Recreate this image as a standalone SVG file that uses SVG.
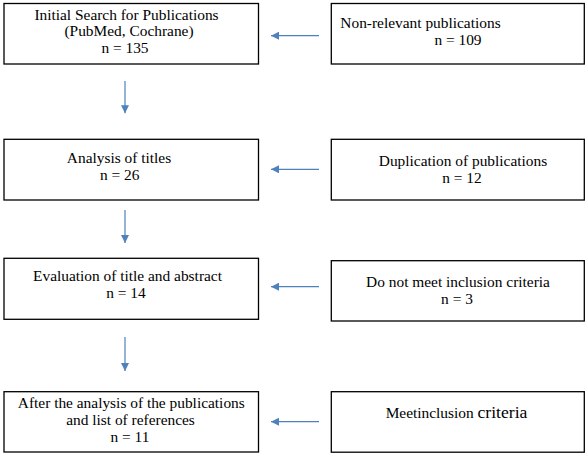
<svg xmlns="http://www.w3.org/2000/svg" width="588" height="455" viewBox="0 0 588 455" font-family="'Liberation Serif', 'Times New Roman', 'DejaVu Serif', serif">
<style>
.box{fill:#fff;stroke:#000;stroke-width:1.3}
text{font-family:'Liberation Serif','Times New Roman','DejaVu Serif',serif;font-size:15.4px;fill:#000;text-anchor:middle}
.big{font-size:17.6px}
.conn line{stroke:#4F81BD;stroke-width:1.2}
</style>
<defs>
<marker id="ah" viewBox="0 0 10 10" refX="10" refY="5" markerWidth="8" markerHeight="8" markerUnits="userSpaceOnUse" orient="auto">
<path d="M0,0 L10,5 L0,10 Z" fill="#4F81BD"/>
</marker>
</defs>
<rect width="588" height="455" fill="#fff"/>
<g id="initial-search">
<rect class="box" x="4" y="3.5" width="254.5" height="60.5"/>
<text x="126.5" y="19.5">Initial Search for Publications</text>
<text x="129" y="36.2">(PubMed, Cochrane)</text>
<text x="125" y="53">n = 135</text>
</g>
<g id="non-relevant">
<rect class="box" x="331.3" y="3.5" width="253" height="60.5"/>
<text x="420.5" y="28.3">Non-relevant publications</text>
<text x="458" y="45">n = 109</text>
</g>
<g id="analysis-titles">
<rect class="box" x="4" y="139.3" width="254.5" height="60.7"/>
<text x="119" y="162.7">Analysis of titles</text>
<text x="119.7" y="180">n = 26</text>
</g>
<g id="duplication">
<rect class="box" x="331.3" y="139.3" width="253" height="60.7"/>
<text x="463" y="166">Duplication of publications</text>
<text x="462" y="183.3">n = 12</text>
</g>
<g id="evaluation">
<rect class="box" x="4" y="258.3" width="254.5" height="61"/>
<text x="127.5" y="281">Evaluation of title and abstract</text>
<text x="126" y="297.7">n = 14</text>
</g>
<g id="not-meet">
<rect class="box" x="331.3" y="260.7" width="253" height="60.3"/>
<text x="458" y="286.7">Do not meet inclusion criteria</text>
<text x="457" y="304.3">n = 3</text>
</g>
<g id="after-analysis">
<rect class="box" x="4" y="391.7" width="254.5" height="60.3"/>
<text x="131.3" y="408.3">After the analysis of the publications</text>
<text x="130.5" y="425">and list of references</text>
<text x="130" y="441.7">n = 11</text>
</g>
<g id="meet-inclusion">
<rect class="box" x="331.3" y="391.7" width="253" height="60.5"/>
<text x="456.5" y="418">Meetinclusion <tspan class="big">criteria</tspan></text>
</g>
<g class="conn" id="connectors">
<line x1="319" y1="35.7" x2="271" y2="35.7" marker-end="url(#ah)"/>
<line x1="319" y1="169.3" x2="271" y2="169.3" marker-end="url(#ah)"/>
<line x1="319" y1="286.7" x2="271" y2="286.7" marker-end="url(#ah)"/>
<line x1="319" y1="421.7" x2="271" y2="421.7" marker-end="url(#ah)"/>
<line x1="125" y1="81" x2="125" y2="113.3" marker-end="url(#ah)"/>
<line x1="125" y1="210" x2="125" y2="243" marker-end="url(#ah)"/>
<line x1="125" y1="337" x2="125" y2="371" marker-end="url(#ah)"/>
</g>
</svg>
